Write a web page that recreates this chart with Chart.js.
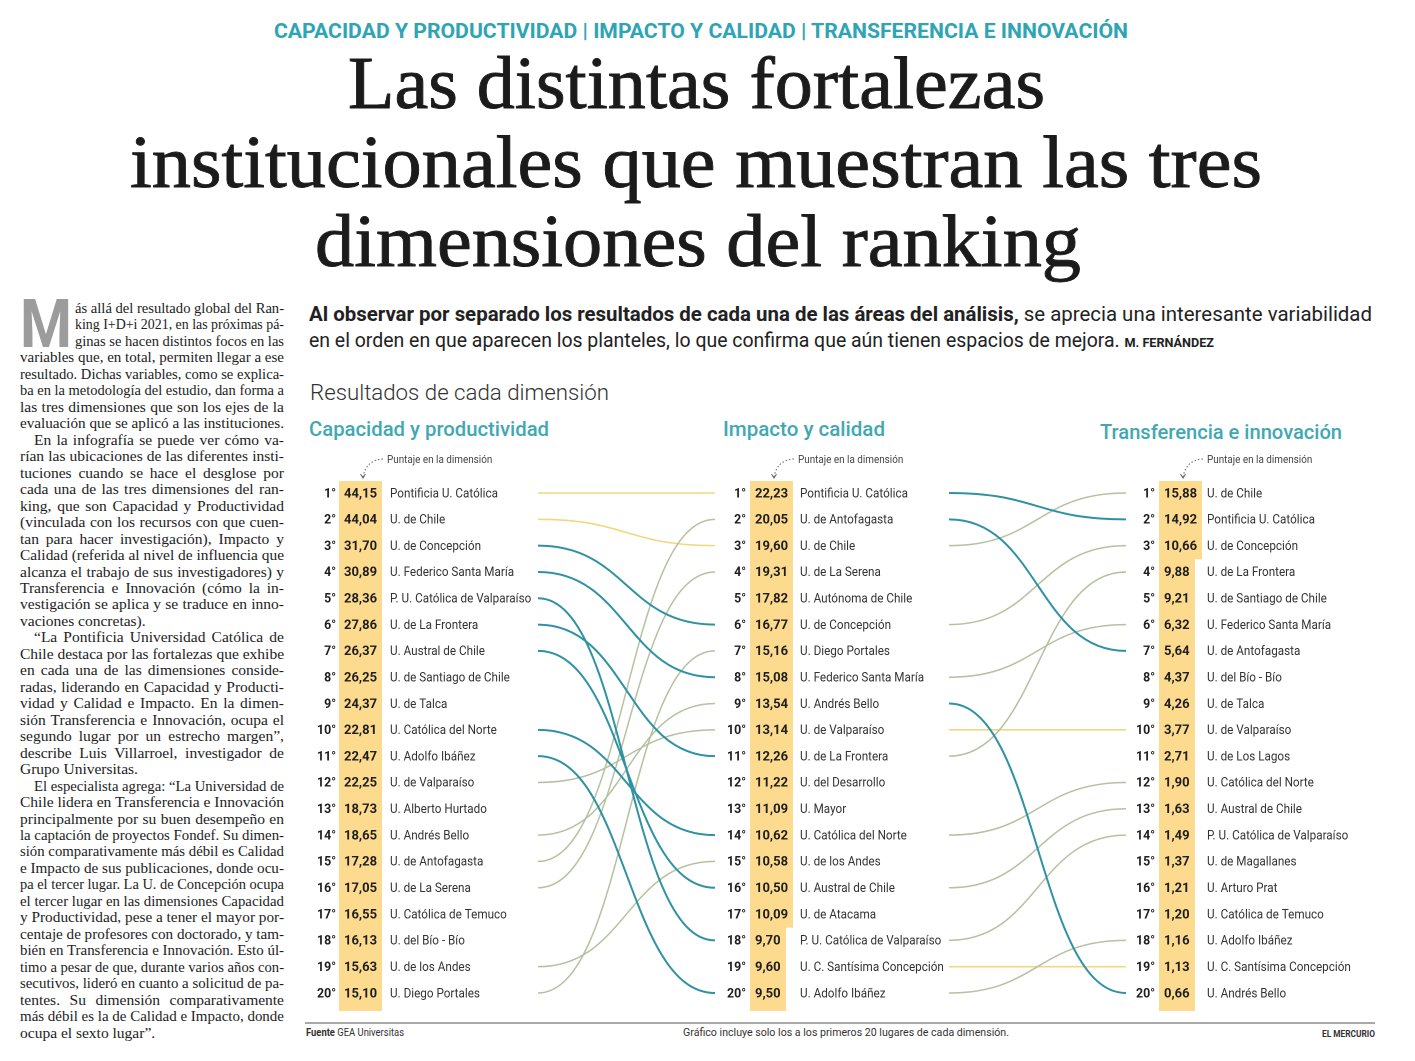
<!DOCTYPE html>
<html lang="es">
<head>
<meta charset="utf-8">
<title>Las distintas fortalezas institucionales</title>
<script src="https://cdn.jsdelivr.net/npm/chart.js@4.4.1/dist/chart.umd.min.js"></script>
<style>
  html, body { margin: 0; padding: 0; background: #fff; }
  #pagina { position: relative; width: 1415px; height: 1061px; overflow: hidden; font-family: Roboto, "DejaVu Sans", sans-serif; color: #222; }
  .abs { position: absolute; white-space: nowrap; }
  .fit { display: inline-block; transform-origin: 0 0; white-space: nowrap; }
  #antetitulo { left: 274px; top: 19px; font-size: 20px; line-height: 24px; font-weight: 700; color: #2ea4b4; }
  .titulo { font-family: "Liberation Serif", "DejaVu Serif", serif; font-size: 75px; line-height: 79px; color: #1b1b1b; -webkit-text-stroke: 0.9px #1b1b1b; }
  #cuerpo { position: absolute; left: 20px; top: 300px; width: 264px; font-family: "Liberation Serif", "DejaVu Serif", serif; font-size: 15.5px; color: #222; }
  .linea { height: 16.48px; line-height: 16.48px; white-space: nowrap; }
  #capitular { left: 20px; top: 292px; font-size: 66px; line-height: 66px; font-weight: 700; color: #9c9c9c; }
  .intro { font-size: 20px; line-height: 24px; color: #222; }
  .firma { font-size: 13px; font-weight: 700; }
  #subtitulo { left: 310px; top: 380px; font-size: 22px; line-height: 26px; font-weight: 300; color: #333; }
  .dimension { font-size: 20px; line-height: 24px; font-weight: 500; color: #41a8b3; }
  #grafico { position: absolute; left: 300px; top: 440px; width: 1090px; height: 580px; }
  #regla { position: absolute; left: 305px; top: 1022px; width: 1070px; height: 2px; background: #a9a9a9; }
  .pie { font-size: 11px; line-height: 14px; color: #333; }
</style>
</head>
<body>
<div id="pagina">
  <div class="abs" id="antetitulo"><span class="fit" data-ancho="854">CAPACIDAD Y PRODUCTIVIDAD | IMPACTO Y CALIDAD | TRANSFERENCIA E INNOVACIÓN</span></div>

  <div class="abs titulo" style="left:348px; top:43px;"><span class="fit" data-ancho="697">Las distintas fortalezas</span></div>
  <div class="abs titulo" style="left:130px; top:122px;"><span class="fit" data-ancho="1132">institucionales que muestran las tres</span></div>
  <div class="abs titulo" style="left:315px; top:201px;"><span class="fit" data-ancho="766">dimensiones del ranking</span></div>

  <div class="abs" id="capitular"><span class="fit" data-ancho="52">M</span></div>
  <div id="cuerpo"></div>

  <div class="abs intro" style="left:309px; top:302px;"><span class="fit" data-ancho="1063"><b>Al observar por separado los resultados de cada una de las áreas del análisis,</b> se aprecia una interesante variabilidad</span></div>
  <div class="abs intro" style="left:309px; top:328px;"><span class="fit" data-ancho="905">en el orden en que aparecen los planteles, lo que confirma que aún tienen espacios de mejora. <span class="firma">M. FERNÁNDEZ</span></span></div>

  <div class="abs" id="subtitulo"><span class="fit" data-ancho="299">Resultados de cada dimensión</span></div>
  <div class="abs dimension" style="left:309px; top:417px;"><span class="fit" data-ancho="240">Capacidad y productividad</span></div>
  <div class="abs dimension" style="left:723px; top:417px;"><span class="fit" data-ancho="162">Impacto y calidad</span></div>
  <div class="abs dimension" style="left:1100px; top:420px;"><span class="fit" data-ancho="242">Transferencia e innovación</span></div>

  <div id="grafico"><canvas id="ranking" width="1090" height="580" style="width:1090px;height:580px;"></canvas></div>

  <div id="regla"></div>
  <div class="abs pie" style="left:306px; top:1026px;"><span class="fit" data-ancho="98"><b>Fuente</b> GEA Universitas</span></div>
  <div class="abs pie" style="left:683px; top:1026px;"><span class="fit" data-ancho="326">Gráfico incluye solo los a los primeros 20 lugares de cada dimensión.</span></div>
  <div class="abs pie" style="left:1322px; top:1027px; font-size:9px; font-weight:700;"><span class="fit" data-ancho="53">EL MERCURIO</span></div>
</div>

<script>
// puestos del ranking (eje vertical)
const puestos = ['1°','2°','3°','4°','5°','6°','7°','8°','9°','10°','11°','12°','13°','14°','15°','16°','17°','18°','19°','20°'];

const capacidadNombres = ['Pontificia U. Católica','U. de Chile','U. de Concepción','U. Federico Santa María','P. U. Católica de Valparaíso','U. de La Frontera','U. Austral de Chile','U. de Santiago de Chile','U. de Talca','U. Católica del Norte','U. Adolfo Ibáñez','U. de Valparaíso','U. Alberto Hurtado','U. Andrés Bello','U. de Antofagasta','U. de La Serena','U. Católica de Temuco','U. del Bío - Bío','U. de los Andes','U. Diego Portales'];
const capacidadPuntajes = [44.15,44.04,31.70,30.89,28.36,27.86,26.37,26.25,24.37,22.81,22.47,22.25,18.73,18.65,17.28,17.05,16.55,16.13,15.63,15.10];

const impactoNombres = ['Pontificia U. Católica','U. de Antofagasta','U. de Chile','U. de La Serena','U. Autónoma de Chile','U. de Concepción','U. Diego Portales','U. Federico Santa María','U. Andrés Bello','U. de Valparaíso','U. de La Frontera','U. del Desarrollo','U. Mayor','U. Católica del Norte','U. de los Andes','U. Austral de Chile','U. de Atacama','P. U. Católica de Valparaíso','U. C. Santísima Concepción','U. Adolfo Ibáñez'];
const impactoPuntajes = [22.23,20.05,19.60,19.31,17.82,16.77,15.16,15.08,13.54,13.14,12.26,11.22,11.09,10.62,10.58,10.50,10.09,9.70,9.60,9.50];

const transferenciaNombres = ['U. de Chile','Pontificia U. Católica','U. de Concepción','U. de La Frontera','U. de Santiago de Chile','U. Federico Santa María','U. de Antofagasta','U. del Bío - Bío','U. de Talca','U. de Valparaíso','U. de Los Lagos','U. Católica del Norte','U. Austral de Chile','P. U. Católica de Valparaíso','U. de Magallanes','U. Arturo Prat','U. Católica de Temuco','U. Adolfo Ibáñez','U. C. Santísima Concepción','U. Andrés Bello'];
const transferenciaPuntajes = [15.88,14.92,10.66,9.88,9.21,6.32,5.64,4.37,4.26,3.77,2.71,1.90,1.63,1.49,1.37,1.21,1.20,1.16,1.13,0.66];

// en el original U. de Chile (2° -> 3°) va en amarillo
const amarillosExtra = [['U. de Chile'], []];

// texto de la columna izquierda, linea por linea
const cuerpo = [
  ['ás allá del resultado global del Ran-','king I+D+i 2021, en las próximas pá-','ginas se hacen distintos focos en las','variables que, en total, permiten llegar a ese','resultado. Dichas variables, como se explica-','ba en la metodología del estudio, dan forma a','las tres dimensiones que son los ejes de la','evaluación que se aplicó a las instituciones.'],
  ['En la infografía se puede ver cómo va-','rían las ubicaciones de las diferentes insti-','tuciones cuando se hace el desglose por','cada una de las tres dimensiones del ran-','king, que son Capacidad y Productividad','(vinculada con los recursos con que cuen-','tan para hacer investigación), Impacto y','Calidad (referida al nivel de influencia que','alcanza el trabajo de sus investigadores) y','Transferencia e Innovación (cómo la in-','vestigación se aplica y se traduce en inno-','vaciones concretas).'],
  ['“La Pontificia Universidad Católica de','Chile destaca por las fortalezas que exhibe','en cada una de las dimensiones conside-','radas, liderando en Capacidad y Producti-','vidad y Calidad e Impacto. En la dimen-','sión Transferencia e Innovación, ocupa el','segundo lugar por un estrecho margen”,','describe Luis Villarroel, investigador de','Grupo Universitas.'],
  ['El especialista agrega: “La Universidad de','Chile lidera en Transferencia e Innovación','principalmente por su buen desempeño en','la captación de proyectos Fondef. Su dimen-','sión comparativamente más débil es Calidad','e Impacto de sus publicaciones, donde ocu-','pa el tercer lugar. La U. de Concepción ocupa','el tercer lugar en las dimensiones Capacidad','y Productividad, pese a tener el mayor por-','centaje de profesores con doctorado, y tam-','bién en Transferencia e Innovación. Esto úl-','timo a pesar de que, durante varios años con-','secutivos, lideró en cuanto a solicitud de pa-','tentes. Su dimensión comparativamente','más débil es la de Calidad e Impacto, donde','ocupa el sexto lugar”.']
];

// ---- texto HTML ----
const cont = document.getElementById('cuerpo');
cuerpo.forEach((parrafo, p) => {
  parrafo.forEach((linea, k) => {
    const div = document.createElement('div');
    div.className = 'linea';
    const sangria = (p === 0 && k < 3) ? 55 : (p > 0 && k === 0 ? 14 : 0);
    div.style.paddingLeft = sangria + 'px';
    const span = document.createElement('span');
    span.className = 'fit';
    span.textContent = linea;
    div.appendChild(span);
    cont.appendChild(div);
    const objetivo = 264 - sangria;
    const w = span.getBoundingClientRect().width;
    const ultima = k === parrafo.length - 1;
    if (w > objetivo) {
      span.style.transform = 'scaleX(' + (objetivo / w) + ')';
    } else if (!ultima) {
      const espacios = (linea.match(/ /g) || []).length;
      if (espacios) span.style.wordSpacing = ((objetivo - w) / espacios) + 'px';
    }
  });
});

document.querySelectorAll('span.fit[data-ancho]').forEach(el => {
  const w = el.getBoundingClientRect().width;
  el.style.transform = 'scaleX(' + (Number(el.dataset.ancho) / w) + ')';
});

// ---- grafico ----
const FUENTE = 'Roboto, "DejaVu Sans", sans-serif';
const COLORES = { igual: '#efd880', sube: '#b6c19f', baja: '#2f92a3' };
const ANCHOS = { igual: 1.6, sube: 1.5, baja: 2 };

// anclas horizontales de cada columna (unidades del eje x = px del lienzo)
const columnas = [
  { nombres: capacidadNombres, puntajes: capacidadPuntajes, rango: 36, puntaje: 44, nombre: 90 },
  { nombres: impactoNombres, puntajes: impactoPuntajes, rango: 446, puntaje: 455, nombre: 500 },
  { nombres: transferenciaNombres, puntajes: transferenciaPuntajes, rango: 855, puntaje: 864, nombre: 907 }
];
const enlacesX = [[238, 415], [649, 826]];

function fmt(v) { return v.toFixed(2).replace('.', ','); }

const datasets = [];
for (let c = 0; c < 2; c++) {
  const a = columnas[c], b = columnas[c + 1];
  a.nombres.forEach((n, i) => {
    const j = b.nombres.indexOf(n);
    if (j < 0) return;
    let tipo = j === i ? 'igual' : (j < i ? 'sube' : 'baja');
    if (amarillosExtra[c].includes(n)) tipo = 'igual';
    datasets.push({
      label: n,
      tipo: tipo,
      data: [{ x: enlacesX[c][0], y: i + 1 }, { x: enlacesX[c][1], y: j + 1 }],
      borderColor: COLORES[tipo],
      borderWidth: ANCHOS[tipo],
      pointRadius: 0,
      showLine: false
    });
  });
}

function escribir(ctx, txt, x, y, font, color, align, sx) {
  ctx.save();
  ctx.font = font;
  ctx.fillStyle = color;
  ctx.textAlign = align || 'left';
  ctx.textBaseline = 'middle';
  ctx.translate(x, y + 1);
  ctx.scale(sx || 1, 1);
  ctx.fillText(txt, 0, 0);
  ctx.restore();
}

const rankingPlugin = {
  id: 'ranking',
  beforeDatasetsDraw(chart) {
    const ctx = chart.ctx, xs = chart.scales.x, ys = chart.scales.y;
    const paso = ys.getPixelForValue(2) - ys.getPixelForValue(1);
    ctx.save();
    ctx.fillStyle = '#fcda8e';
    ctx.font = 'bold 13px ' + FUENTE;
    columnas.forEach(col => {
      const x0 = xs.getPixelForValue(col.puntaje);
      col.puntajes.forEach((v, i) => {
        const y = ys.getPixelForValue(i + 1);
        const top = i === 0 ? y - 12 : y - paso / 2;
        const bottom = i === col.puntajes.length - 1 ? y + 18 : y + paso / 2 + 0.5;
        const w = ctx.measureText(fmt(v)).width;
        ctx.fillRect(Math.round(x0 - 5), top, Math.round(w + 10), bottom - top);
      });
    });
    ctx.restore();
  },
  afterDatasetsDraw(chart) {
    const ctx = chart.ctx, xs = chart.scales.x, ys = chart.scales.y;
    // enlaces curvos entre columnas
    ['igual', 'sube', 'baja'].forEach(tipo => {
      chart.data.datasets.forEach((ds, k) => {
        if (ds.tipo !== tipo) return;
        const pts = chart.getDatasetMeta(k).data;
        const p0 = pts[0], p1 = pts[1];
        const mx = (p0.x + p1.x) / 2;
        ctx.save();
        ctx.strokeStyle = ds.borderColor;
        ctx.lineWidth = ds.borderWidth;
        ctx.beginPath();
        ctx.moveTo(p0.x, p0.y);
        ctx.bezierCurveTo(mx, p0.y, mx, p1.y, p1.x, p1.y);
        ctx.stroke();
        ctx.restore();
      });
    });
    // textos de cada columna
    columnas.forEach(col => {
      const xr = xs.getPixelForValue(col.rango);
      const xp = xs.getPixelForValue(col.puntaje);
      const xn = xs.getPixelForValue(col.nombre);
      col.nombres.forEach((n, i) => {
        const y = ys.getPixelForValue(i + 1);
        escribir(ctx, puestos[i], xr, y, 'bold 13px ' + FUENTE, '#1e1e1e', 'right', 0.95);
        escribir(ctx, fmt(col.puntajes[i]), xp, y, 'bold 13px ' + FUENTE, '#1e1e1e', 'left', 1);
        escribir(ctx, n, xn, y, '13px ' + FUENTE, '#333', 'left', 0.9);
      });
      // anotacion "Puntaje en la dimension"
      const y1 = ys.getPixelForValue(1);
      escribir(ctx, 'Puntaje en la dimensión', xp + 43, y1 - 34, '11px ' + FUENTE, '#444', 'left', 0.9);
      ctx.save();
      ctx.strokeStyle = '#666';
      ctx.lineWidth = 1;
      ctx.setLineDash([1.5, 2]);
      ctx.beginPath();
      ctx.moveTo(xp + 39, y1 - 34);
      ctx.quadraticCurveTo(xp + 22, y1 - 33, xp + 19, y1 - 16);
      ctx.stroke();
      ctx.setLineDash([]);
      ctx.beginPath();
      ctx.moveTo(xp + 16.5, y1 - 19);
      ctx.lineTo(xp + 19, y1 - 15);
      ctx.lineTo(xp + 21.5, y1 - 19);
      ctx.stroke();
      ctx.restore();
    });
  }
};

new Chart(document.getElementById('ranking'), {
  type: 'scatter',
  data: { datasets: datasets },
  options: {
    responsive: false,
    animation: false,
    devicePixelRatio: 2,
    layout: { padding: { top: 53, bottom: 27, left: 0, right: 0 } },
    scales: {
      x: { type: 'linear', min: 0, max: 1090, display: false },
      y: { type: 'linear', min: 1, max: 20, reverse: true, display: false }
    },
    plugins: {
      legend: { display: false },
      tooltip: { enabled: false }
    }
  },
  plugins: [rankingPlugin]
});
</script>
</body>
</html>
